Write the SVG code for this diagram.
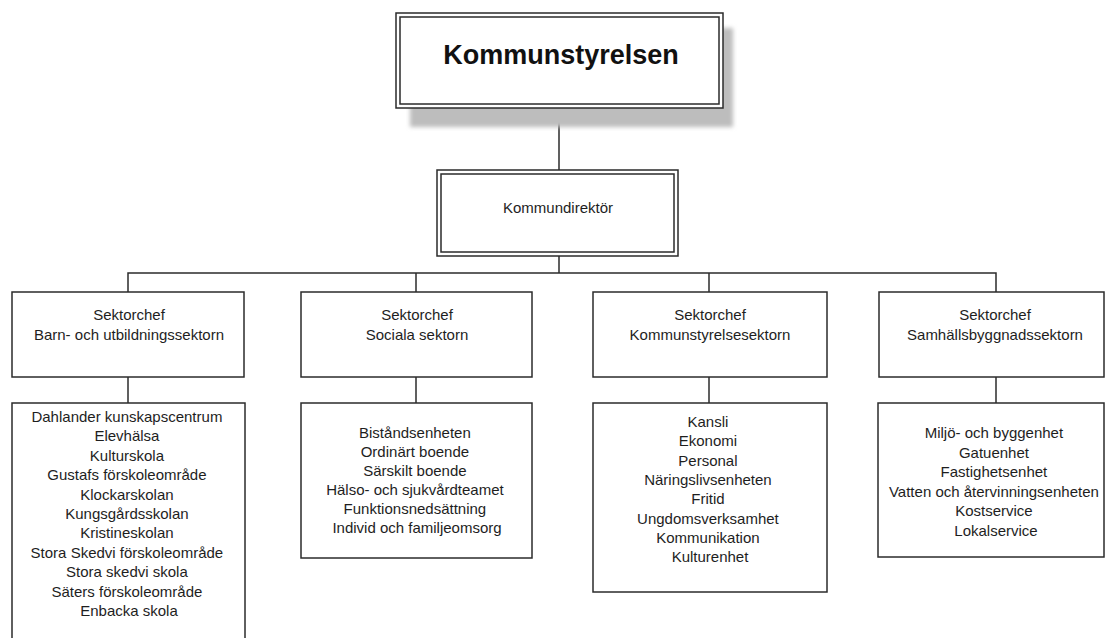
<svg xmlns="http://www.w3.org/2000/svg" width="1106" height="638" viewBox="0 0 1106 638">
<style>
  .box{fill:#fff;stroke:#2b2b2b;stroke-width:1.5}
  .line{fill:none;stroke:#2b2b2b;stroke-width:1.5}
  .t{font-family:"Liberation Sans",Arial,sans-serif;font-size:15px;fill:#1e1e1e;text-anchor:middle}
  .title{font-family:"Liberation Sans",Arial,sans-serif;font-size:27px;font-weight:bold;fill:#111;text-anchor:middle}
</style>
<defs>
  <filter id="blur" x="-10%" y="-10%" width="120%" height="130%">
    <feGaussianBlur stdDeviation="2"/>
  </filter>
</defs>
<rect width="1106" height="638" fill="#fff"/>
<g id="connectors">
  <line class="line" x1="559" y1="108" x2="559" y2="170"/>
  <line class="line" x1="559" y1="256" x2="559" y2="273"/>
  <polyline class="line" points="128,292 128,273 996,273 996,292"/>
  <line class="line" x1="416" y1="273" x2="416" y2="292"/>
  <line class="line" x1="709" y1="273" x2="709" y2="292"/>
  <line class="line" x1="128" y1="377" x2="128" y2="403"/>
  <line class="line" x1="416" y1="377" x2="416" y2="403"/>
  <line class="line" x1="709" y1="377" x2="709" y2="403"/>
  <line class="line" x1="996" y1="377" x2="996" y2="403"/>
</g>
<g id="kommunstyrelsen">
  <rect x="410" y="28" width="323" height="99" fill="#bdbdbd" filter="url(#blur)"/>
  <rect class="box" x="396" y="13" width="327" height="95"/>
  <rect class="box" x="400" y="17" width="319" height="87"/>
  <text class="title" x="561" y="64">Kommunstyrelsen</text>
</g>
<g id="kommundirektor">
  <rect class="box" x="437" y="170" width="241" height="86"/>
  <rect class="box" x="441" y="174" width="233" height="78"/>
  <text class="t" x="558" y="213">Kommundirektör</text>
</g>
<g id="sektor-barn">
  <rect class="box" x="12" y="292" width="232" height="85"/>
  <text class="t" x="129" y="320">Sektorchef</text>
  <text class="t" x="129" y="340">Barn- och utbildningssektorn</text>
</g>
<g id="sektor-sociala">
  <rect class="box" x="301" y="292" width="231" height="85"/>
  <text class="t" x="417" y="320">Sektorchef</text>
  <text class="t" x="417" y="340">Sociala sektorn</text>
</g>
<g id="sektor-ks">
  <rect class="box" x="593" y="292" width="234" height="85"/>
  <text class="t" x="710" y="320">Sektorchef</text>
  <text class="t" x="710" y="340">Kommunstyrelsesektorn</text>
</g>
<g id="sektor-samhall">
  <rect class="box" x="879" y="292" width="225" height="85"/>
  <text class="t" x="995" y="320">Sektorchef</text>
  <text class="t" x="995" y="340">Samhällsbyggnadssektorn</text>
</g>
<g id="enheter-barn">
  <rect class="box" x="12" y="403" width="233" height="245"/>
  <text class="t" x="129" y="422">
    <tspan x="129">Dahlander kunskapscentrum</tspan>
    <tspan x="129" dy="19.4">Elevhälsa</tspan>
    <tspan x="129" dy="19.4">Kulturskola</tspan>
    <tspan x="129" dy="19.4">Gustafs förskoleområde</tspan>
    <tspan x="129" dy="19.4">Klockarskolan</tspan>
    <tspan x="129" dy="19.4">Kungsgårdsskolan</tspan>
    <tspan x="129" dy="19.4">Kristineskolan</tspan>
    <tspan x="129" dy="19.4">Stora Skedvi förskoleområde</tspan>
    <tspan x="129" dy="19.4">Stora skedvi skola</tspan>
    <tspan x="129" dy="19.4">Säters förskoleområde</tspan>
    <tspan x="129" dy="19.4">Enbacka skola</tspan>
  </text>
</g>
<g id="enheter-sociala">
  <rect class="box" x="301" y="403" width="231" height="155"/>
  <text class="t" x="417" y="438">
    <tspan x="417">Biståndsenheten</tspan>
    <tspan x="417" dy="19">Ordinärt boende</tspan>
    <tspan x="417" dy="19">Särskilt boende</tspan>
    <tspan x="417" dy="19">Hälso- och sjukvårdteamet</tspan>
    <tspan x="417" dy="19">Funktionsnedsättning</tspan>
    <tspan x="417" dy="19">Individ och familjeomsorg</tspan>
  </text>
</g>
<g id="enheter-ks">
  <rect class="box" x="593" y="403" width="234" height="189"/>
  <text class="t" x="710" y="427">
    <tspan x="710">Kansli</tspan>
    <tspan x="710" dy="19.3">Ekonomi</tspan>
    <tspan x="710" dy="19.3">Personal</tspan>
    <tspan x="710" dy="19.3">Näringslivsenheten</tspan>
    <tspan x="710" dy="19.3">Fritid</tspan>
    <tspan x="710" dy="19.3">Ungdomsverksamhet</tspan>
    <tspan x="710" dy="19.3">Kommunikation</tspan>
    <tspan x="710" dy="19.3">Kulturenhet</tspan>
  </text>
</g>
<g id="enheter-samhall">
  <rect class="box" x="878" y="403" width="226" height="154"/>
  <text class="t" x="996" y="438">
    <tspan x="996">Miljö- och byggenhet</tspan>
    <tspan x="996" dy="19.6">Gatuenhet</tspan>
    <tspan x="996" dy="19.6">Fastighetsenhet</tspan>
    <tspan x="996" dy="19.6">Vatten och återvinningsenheten</tspan>
    <tspan x="996" dy="19.6">Kostservice</tspan>
    <tspan x="996" dy="19.6">Lokalservice</tspan>
  </text>
</g>
</svg>
